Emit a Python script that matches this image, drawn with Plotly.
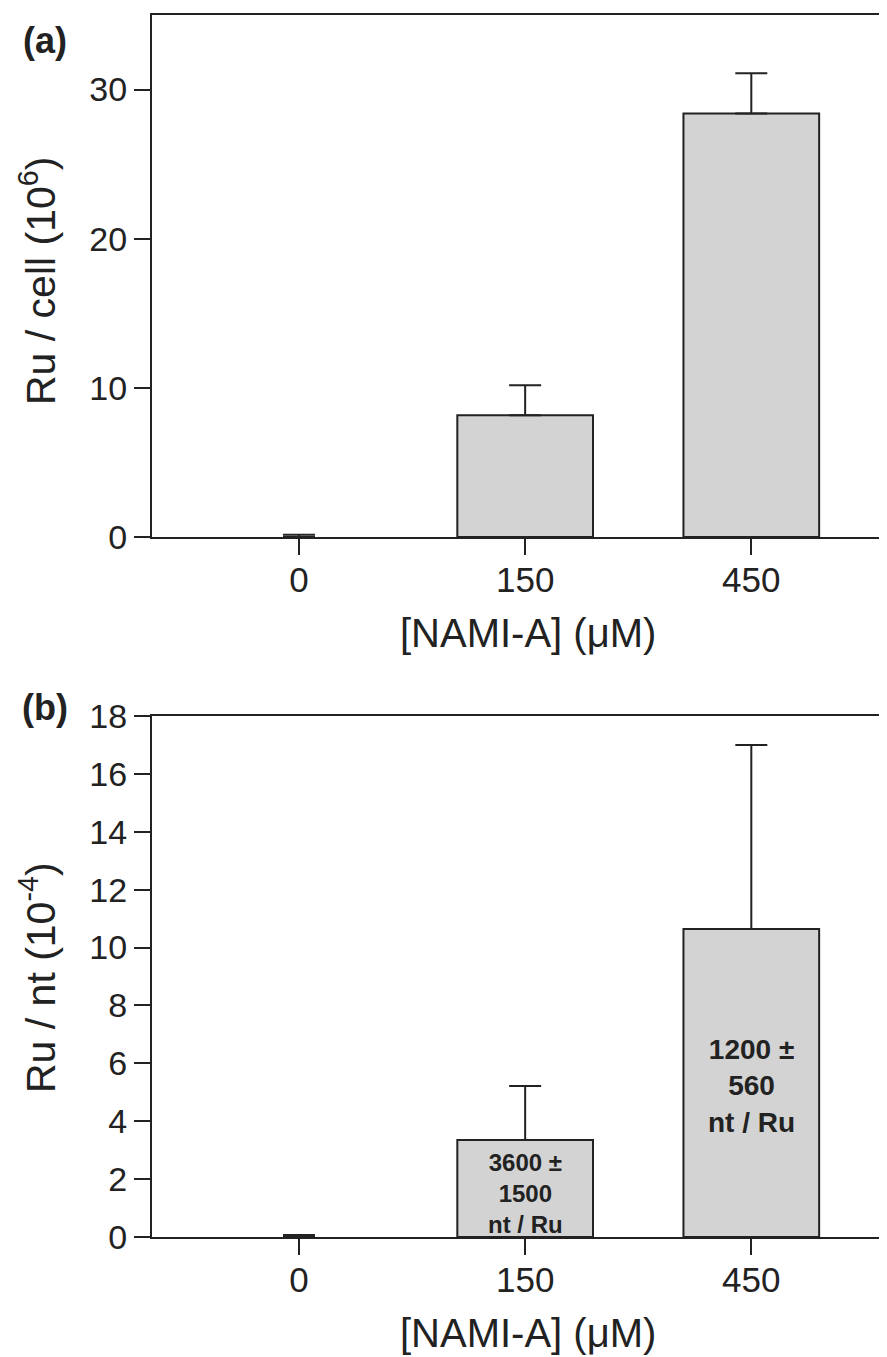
import plotly.graph_objects as go

categories = ["0", "150", "450"]

# Panel (a): Ru per cell (10^6)
ru_cell = [0, 8.17, 28.4]
ru_cell_err = [0.15, 2.0, 2.7]

# Panel (b): Ru per nt (10^-4)
ru_nt = [0, 3.35, 10.64]
ru_nt_err = [0.07, 1.87, 6.36]
nt_labels = ["", "3600 ±<br>1500<br>nt / Ru", "1200 ±<br>560<br>nt / Ru"]
nt_label_y = [0, 1.52, 5.22]
nt_label_size = [24, 24, 28]

# the page body has an 8px margin; the figure is sized to fill the rest
OFF = 8
W, H = 887 - OFF, 1357 - OFF
FONT = "Liberation Sans, Arial, sans-serif"
DARK = "#222222"
FILL = "#d3d3d3"


def px(x):
    return (x - OFF) / W


def py(y):
    return 1 - (y - OFF) / H


a_dom = [py(537), py(15)]
b_dom = [py(1237), py(716)]

fig = go.Figure()

for vals, errs, xa, ya in [(ru_cell, ru_cell_err, "x", "y"), (ru_nt, ru_nt_err, "x2", "y2")]:
    fig.add_trace(go.Bar(
        x=categories, y=vals, xaxis=xa, yaxis=ya, width=0.6,
        marker=dict(color=FILL, line=dict(color=DARK, width=[2 if v > 0 else 0 for v in vals])),
        error_y=dict(type="data", array=errs, arrayminus=[0] * len(errs), symmetric=False,
                     color=DARK, thickness=2, width=16),
        showlegend=False,
    ))

xcommon = dict(
    type="category", range=[-0.65, 2.60], domain=[px(152), 1],
    showline=True, linecolor=DARK, linewidth=2, mirror=True,
    ticks="outside", ticklen=16, tickwidth=2, tickcolor=DARK, ticklabelstandoff=-5,
    tickfont=dict(family=FONT, size=35, color=DARK), showgrid=False, zeroline=False,
)
ycommon = dict(
    showline=True, linecolor=DARK, linewidth=2,
    ticks="outside", ticklen=16, tickwidth=2, tickcolor=DARK,
    tickfont=dict(family=FONT, size=34, color=DARK), showgrid=False, zeroline=False,
)

fig.update_layout(
    width=W, height=H, plot_bgcolor="white", paper_bgcolor="white",
    margin=dict(l=0, r=0, t=0, b=0, autoexpand=False),
    xaxis=dict(**xcommon, anchor="y"),
    yaxis=dict(**ycommon, domain=a_dom, range=[0, 35], tickvals=[0, 10, 20, 30], anchor="x"),
    xaxis2=dict(**xcommon, anchor="y2"),
    yaxis2=dict(**ycommon, domain=b_dom, range=[0, 18], tickvals=list(range(0, 19, 2)), anchor="x2"),
)


def pann(text, x, y, size, angle=0):
    return dict(text=text, x=px(x), y=py(y), xref="paper", yref="paper", xanchor="center",
                yanchor="middle", textangle=angle, showarrow=False,
                font=dict(family=FONT, size=size, color=DARK))


ann = [
    pann("<b>(a)</b>", 45, 40, 36),
    pann("<b>(b)</b>", 45, 707, 36),
    pann("Ru / cell (10<sup>6</sup>)", 38, 281, 41, -90),
    pann("Ru / nt (10<sup>-4</sup>)", 38, 978, 41, -90),
    pann("[NAMI-A] (μM)", 528, 633, 40),
    pann("[NAMI-A] (μM)", 528, 1333, 40),
]
for i, (t, yy, s) in enumerate(zip(nt_labels, nt_label_y, nt_label_size)):
    if t:
        ann.append(dict(text="<b>" + t + "</b>", x=i, y=yy, xref="x2", yref="y2", showarrow=False,
                        xanchor="center", yanchor="middle",
                        font=dict(family=FONT, size=s, color=DARK)))

fig.update_layout(annotations=ann)
fig.write_html("out.html")
